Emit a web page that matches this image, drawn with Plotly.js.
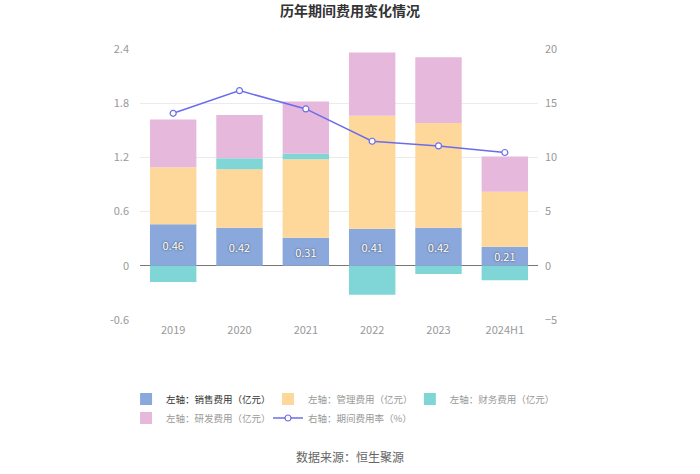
<!DOCTYPE html>
<html>
<head>
<meta charset="utf-8">
<script src="https://cdn.plot.ly/plotly-3.0.1.min.js"></script>
<style>html,body{margin:0;padding:0;background:#fff;}#chart{width:700px;height:474px;}</style>
</head>
<body>
<div id="chart"></div>
<script>
const years = ['2019', '2020', '2021', '2022', '2023', '2024H1'];
const sales = [0.46, 0.42, 0.31, 0.41, 0.42, 0.21];
const admin = [0.63, 0.65, 0.87, 1.25, 1.16, 0.61];
const finance = [-0.18, 0.12, 0.06, -0.32, -0.09, -0.16];
const rnd = [0.53, 0.48, 0.58, 0.70, 0.73, 0.39];
const rate = [14.07, 16.16, 14.47, 11.49, 11.06, 10.45];
const leftTicks = [-0.6, 0, 0.6, 1.2, 1.8, 2.4];
const rightTicks = [-5, 0, 5, 10, 15, 20];

const grey = '<span style="color:#999">';
const traces = [
  {type: 'bar', name: '<span style="color:#333">左轴：销售费用（亿元）</span>', x: years, y: sales,
   legend: 'legend', legendrank: 1,
   marker: {color: '#8aa8dc'}, text: sales.map(v => v.toFixed(2)), textposition: 'inside',
   insidetextanchor: 'middle', textangle: 0, constraintext: 'none',
   textfont: {color: '#fff', size: 11, family: 'Noto Sans CJK SC, sans-serif', shadow: '0px 0px 2px #333'},
   hoverinfo: 'skip'},
  {type: 'bar', name: grey + '左轴：管理费用（亿元）</span>', x: years, y: admin,
   legend: 'legend2', legendrank: 1,
   marker: {color: '#fdd89a'}, hoverinfo: 'skip'},
  {type: 'bar', name: grey + '左轴：财务费用（亿元）</span>', x: years, y: finance,
   legend: 'legend3', legendrank: 1,
   marker: {color: '#80d6d6'}, hoverinfo: 'skip'},
  {type: 'bar', name: grey + '左轴：研发费用（亿元）</span>', x: years, y: rnd,
   legend: 'legend', legendrank: 2,
   marker: {color: '#e6b8db'}, hoverinfo: 'skip'},
  {type: 'scatter', mode: 'lines+markers', name: grey + '右轴：期间费用率（%）</span>', x: years, y: rate,
   legend: 'legend2', legendrank: 2,
   yaxis: 'y2', line: {color: '#6b6ced', width: 1.5},
   marker: {symbol: 'circle', size: 6, color: '#fff', line: {color: '#6b6ced', width: 1.2}},
   hoverinfo: 'skip'}
];

const legendBase = {orientation: 'v', y: -0.238, xanchor: 'left', yanchor: 'top',
  traceorder: 'normal', font: {size: 9.5, color: '#999'}, itemwidth: 30, tracegroupgap: 0,
  bgcolor: 'rgba(0,0,0,0)'};

const layout = {
  width: 700, height: 474,
  paper_bgcolor: '#fff', plot_bgcolor: '#fff',
  margin: {l: 140, r: 162, t: 49, b: 154},
  font: {family: 'Noto Sans CJK SC, sans-serif', color: '#999', size: 11},
  title: {text: '<b>历年期间费用变化情况</b>', x: 0.5, xanchor: 'center', y: 0.977, yanchor: 'middle',
          font: {size: 14, color: '#333', family: 'Noto Sans CJK SC, sans-serif'}},
  barmode: 'relative',
  bargap: 0.3,
  showlegend: true,
  xaxis: {type: 'category', showgrid: false, showline: false, ticks: '', zeroline: false,
          tickfont: {size: 11, color: '#999'}, ticklabelstandoff: 2},
  yaxis: {range: [-0.6, 2.4], tickvals: leftTicks, ticktext: leftTicks.map(v => v.toString()),
          showgrid: true, gridcolor: '#ebebeb', gridwidth: 1, zeroline: true, zerolinecolor: '#777', zerolinewidth: 1,
          showline: false, ticks: '', tickfont: {size: 11, color: '#999'}, ticklabelstandoff: 10},
  yaxis2: {range: [-5, 20], tickvals: rightTicks, overlaying: 'y', side: 'right', showgrid: false,
           zeroline: false, showline: false, ticks: '', tickfont: {size: 11, color: '#999'}, ticklabelstandoff: 6},
  legend: Object.assign({}, legendBase, {x: -0.035}),
  legend2: Object.assign({}, legendBase, {x: 0.3216}),
  legend3: Object.assign({}, legendBase, {x: 0.678}),
  annotations: [
    {text: '数据来源：恒生聚源', xref: 'paper', yref: 'paper', x: 0.5276, y: -0.5055,
     xanchor: 'center', yanchor: 'middle', showarrow: false,
     font: {size: 12, color: '#666', family: 'Noto Sans CJK SC, sans-serif'}}
  ]
};
Plotly.newPlot('chart', traces, layout, {displayModeBar: false, staticPlot: true});
</script>
</body>
</html>
